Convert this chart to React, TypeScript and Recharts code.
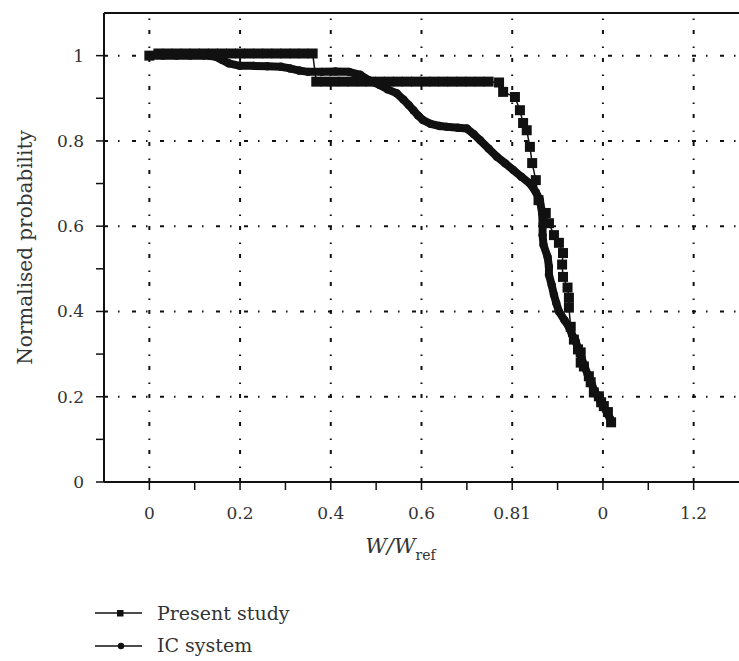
import React from 'react';
import { LineChart, Line, XAxis, YAxis, ReferenceLine } from 'recharts';

const seriesNames = ['Present study', 'IC system'];

const xTicks = [0, 0.1, 0.2, 0.3, 0.4, 0.5, 0.6, 0.7, 0.8, 0.9, 1.0, 1.1, 1.2];
const xTickLabels = ['0', '', '0.2', '', '0.4', '', '0.6', '', '0.81', '', '0', '', '1.2'];
const yTicks = [0, 0.1, 0.2, 0.3, 0.4, 0.5, 0.6, 0.7, 0.8, 0.9, 1.0];
const yTickLabels = ['0', '', '0.2', '', '0.4', '', '0.6', '', '0.8', '', '1'];
const gridX = [0, 0.2, 0.4, 0.6, 0.8, 1.0, 1.2];
const gridY = [0.2, 0.4, 0.6, 0.8, 1.0];

const presentStudyPoints: [number, number][] = [
  [0, 1.0], [0.02, 1.005], [0.04, 1.005], [0.06, 1.005], [0.08, 1.005], [0.1, 1.005],
  [0.12, 1.005], [0.14, 1.005], [0.16, 1.005], [0.18, 1.005], [0.2, 1.005], [0.22, 1.005],
  [0.24, 1.005], [0.26, 1.005], [0.28, 1.005], [0.3, 1.005], [0.32, 1.005], [0.34, 1.005],
  [0.36, 1.005],
  [0.368, 0.939], [0.388, 0.939], [0.408, 0.939], [0.428, 0.939], [0.448, 0.939], [0.468, 0.939],
  [0.488, 0.939], [0.508, 0.939], [0.528, 0.939], [0.548, 0.939], [0.568, 0.939], [0.588, 0.939],
  [0.608, 0.939], [0.628, 0.939], [0.648, 0.939], [0.668, 0.939], [0.688, 0.939], [0.708, 0.939],
  [0.728, 0.939], [0.748, 0.939],
  [0.771, 0.937], [0.78, 0.915], [0.806, 0.903], [0.817, 0.872], [0.824, 0.842], [0.832, 0.825],
  [0.839, 0.786], [0.844, 0.748], [0.852, 0.708], [0.858, 0.661], [0.874, 0.631], [0.881, 0.607],
  [0.892, 0.579], [0.903, 0.561], [0.912, 0.537], [0.91, 0.51], [0.912, 0.481], [0.922, 0.456],
  [0.925, 0.432], [0.925, 0.409], [0.929, 0.364], [0.936, 0.334], [0.945, 0.311], [0.951, 0.304],
  [0.951, 0.28], [0.958, 0.271], [0.969, 0.248], [0.973, 0.234], [0.98, 0.21], [0.991, 0.201],
  [0.996, 0.187], [1.002, 0.178], [1.011, 0.164], [1.018, 0.14],
];

const icSystemPoints: [number, number][] = [
  [0, 1.0], [0.03, 1.0], [0.06, 1.0], [0.09, 1.0], [0.12, 1.0], [0.145, 0.998], [0.16, 0.99],
  [0.175, 0.982], [0.2, 0.976], [0.23, 0.976], [0.26, 0.975], [0.29, 0.974], [0.31, 0.97],
  [0.33, 0.965], [0.35, 0.962], [0.38, 0.962], [0.41, 0.963], [0.44, 0.962], [0.465, 0.955],
  [0.485, 0.942], [0.508, 0.931], [0.525, 0.921], [0.545, 0.912], [0.56, 0.897], [0.572, 0.884],
  [0.582, 0.872], [0.592, 0.86], [0.603, 0.849], [0.62, 0.84], [0.64, 0.835], [0.656, 0.833],
  [0.68, 0.831], [0.7, 0.829], [0.715, 0.816], [0.729, 0.802], [0.748, 0.782], [0.766, 0.763],
  [0.785, 0.747], [0.802, 0.732], [0.82, 0.716], [0.839, 0.7], [0.852, 0.68], [0.861, 0.661],
  [0.866, 0.63], [0.867, 0.605], [0.867, 0.579], [0.869, 0.556], [0.878, 0.528], [0.881, 0.505],
  [0.881, 0.486], [0.887, 0.462], [0.892, 0.439], [0.897, 0.42], [0.903, 0.4], [0.915, 0.38],
  [0.925, 0.364], [0.932, 0.345], [0.94, 0.33], [0.946, 0.31], [0.953, 0.29], [0.96, 0.27],
  [0.967, 0.25], [0.975, 0.23], [0.983, 0.21], [0.992, 0.195], [1.0, 0.18], [1.008, 0.165],
  [1.015, 0.15], [1.018, 0.14],
];

const presentData = presentStudyPoints.map(([x, y]) => ({ x, y }));
const icData = icSystemPoints.map(([x, y]) => ({ x, y }));

const INK = '#111';
const TEXT = '#333';
const FONT = '"DejaVu Serif", "Liberation Serif", serif';
const GRID_DASH = '4 10 1.5 12.5';

const SquareDot = (props: any) => {
  const { cx, cy, index } = props;
  if (cx == null || cy == null) return <g key={`sq-${index}`} />;
  return <rect key={`sq-${index}`} x={cx - 5} y={cy - 5} width={10} height={10} fill={INK} />;
};

const CircleDot = (props: any) => {
  const { cx, cy, index } = props;
  if (cx == null || cy == null) return <g key={`c-${index}`} />;
  return <circle key={`c-${index}`} cx={cx} cy={cy} r={4.2} fill={INK} />;
};

const XLabel = (props: any) => {
  const vb = props.viewBox || {};
  const x = vb.x + vb.width / 2 - 21;
  const y = vb.y + 71;
  return (
    <text x={x} y={y} textAnchor="middle" fontFamily={FONT} fill={TEXT} fontSize={21}>
      <tspan fontStyle="italic">W/W</tspan>
      <tspan fontSize={14} dy={7}>ref</tspan>
    </text>
  );
};

const YLabel = (props: any) => {
  const vb = props.viewBox || {};
  const x = 25;
  const y = vb.y + vb.height / 2;
  return (
    <text
      x={x}
      y={y}
      transform={`rotate(-90, ${x}, ${y})`}
      textAnchor="middle"
      dominantBaseline="central"
      fontFamily={FONT}
      fontSize={20}
      fill={TEXT}
    >
      Normalised probability
    </text>
  );
};

export default function App() {
  return (
    <div style={{ position: 'absolute', left: 0, top: 0, width: 739, height: 661, overflow: 'hidden', background: '#fff' }}>
      <LineChart width={739} height={661} margin={{ top: 13, right: 0, bottom: 109, left: 0 }}>
        <XAxis
          dataKey="x"
          type="number"
          domain={[-0.1, 1.3]}
          ticks={xTicks}
          allowDataOverflow
          height={70}
          tickSize={8}
          tickMargin={17}
          interval={0}
          tickFormatter={(_v: number, i: number) => xTickLabels[i]}
          axisLine={{ stroke: INK, strokeWidth: 2 }}
          tickLine={{ stroke: INK, strokeWidth: 1.5 }}
          tick={{ fill: TEXT, fontSize: 17, fontFamily: FONT }}
          label={<XLabel />}
        />
        <YAxis
          dataKey="y"
          type="number"
          domain={[0, 1.1]}
          ticks={yTicks}
          allowDataOverflow
          width={104}
          tickSize={8}
          tickMargin={12}
          interval={0}
          tickFormatter={(_v: number, i: number) => yTickLabels[i]}
          axisLine={{ stroke: INK, strokeWidth: 2 }}
          tickLine={{ stroke: INK, strokeWidth: 1.5 }}
          tick={{ fill: TEXT, fontSize: 17, fontFamily: FONT }}
          label={<YLabel />}
        />
        {gridX.map((v) => (
          <ReferenceLine key={`gx-${v}`} x={v} stroke={INK} strokeWidth={2} strokeDasharray={GRID_DASH} />
        ))}
        {gridY.map((v) => (
          <ReferenceLine key={`gy-${v}`} y={v} stroke={INK} strokeWidth={2} strokeDasharray={GRID_DASH} />
        ))}
        <ReferenceLine y={1.1} stroke={INK} strokeWidth={2} />
        <Line
          name={seriesNames[1]}
          data={icData}
          dataKey="y"
          type="linear"
          stroke={INK}
          strokeWidth={8}
          strokeLinejoin="round"
          strokeLinecap="round"
          dot={(p: any) => <CircleDot {...p} />}
          isAnimationActive={false}
        />
        <Line
          name={seriesNames[0]}
          data={presentData}
          dataKey="y"
          type="linear"
          stroke={INK}
          strokeWidth={1.5}
          dot={(p: any) => <SquareDot {...p} />}
          isAnimationActive={false}
        />
      </LineChart>
      <svg width={739} height={661} style={{ position: 'absolute', left: 0, top: 0, pointerEvents: 'none' }}>
        <line x1={95} y1={613} x2={142} y2={613} stroke={INK} strokeWidth={1.5} />
        <rect x={117} y={610} width={6.5} height={6.5} fill={INK} />
        <text x={157} y={620} fontFamily={FONT} fontSize={19} fill={TEXT}>{seriesNames[0]}</text>
        <line x1={95} y1={646} x2={142} y2={646} stroke={INK} strokeWidth={1.5} />
        <circle cx={121} cy={646} r={3.2} fill={INK} />
        <text x={157} y={652} fontFamily={FONT} fontSize={19} fill={TEXT}>{seriesNames[1]}</text>
      </svg>
    </div>
  );
}
